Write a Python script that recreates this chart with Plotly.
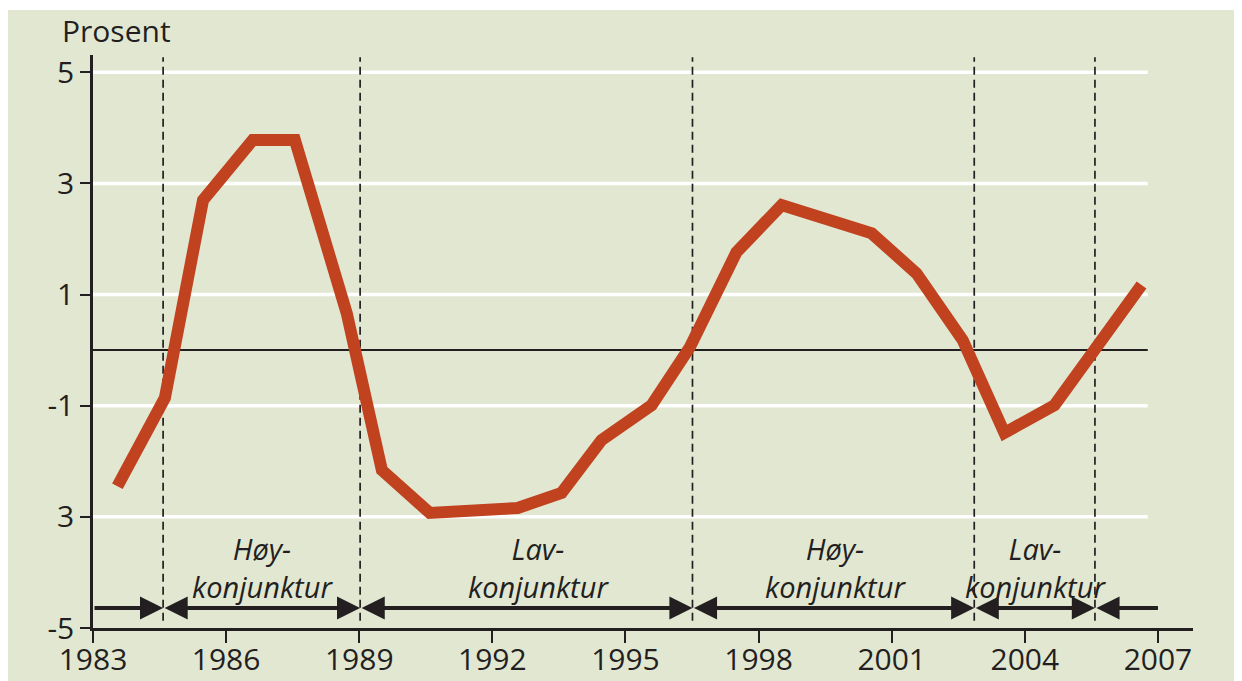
import plotly.graph_objects as go

# ---- data ----
years = [1983.55, 1984.62, 1985.48, 1986.6, 1987.55, 1988.72, 1989.51, 1990.59,
         1992.57, 1993.56, 1994.46, 1995.59, 1996.45, 1997.5, 1998.52, 1999.82,
         2000.55, 2001.56, 2002.6, 2003.54, 2004.67, 2006.63]
gap = [-2.45, -0.86, 2.70, 3.78, 3.78, 0.66, -2.16, -2.93,
       -2.84, -2.57, -1.62, -0.99, 0.05, 1.76, 2.61, 2.30,
       2.10, 1.38, 0.18, -1.49, -0.99, 1.17]

x_ticks = [1983, 1986, 1989, 1992, 1995, 1998, 2001, 2004, 2007]
x_ticktext = ["1983", "1986", "1989", "1992", "1995", "1998", "2001", "2004", "2007"]
y_ticks = [5, 3, 1, -1, -3, -5]
y_ticktext = ["5", "3", "1", "-1", "3", "-5"]
grid_vals = [5, 3, 1, -1, -3]

phase_bounds = [1983, 1984.58, 1989.02, 1996.51, 2002.86, 2005.58, 2007]
phase_labels = ["Høy-<br>konjunktur", "Lav-<br>konjunktur",
                "Høy-<br>konjunktur", "Lav-<br>konjunktur"]
phase_label_x = [1986.81, 1993.05, 1999.74, 2004.25]

# ---- style ----
BG = "#e2e7d2"
INK = "#231f20"
RED = "#c0421f"
FONT = "Open Sans"
OFF = 8                      # page body margin
W, H = 1242 - OFF, 681 - OFF
L, R, T, B = 93 - OFF, 49, 55 - OFF, 53
x_range = [1983, 2007.79]
y_range = [-5, 5.31]
grid_end = 2006.77
arrow_y = -4.64
dash_top, dash_bot = 5.27, -4.87
label_y = -3.92

fig = go.Figure()

shapes = []
for g in grid_vals:
    shapes.append(dict(type="line", xref="x", yref="y", x0=x_range[0], x1=grid_end,
                       y0=g, y1=g, line=dict(color="white", width=3.5), layer="below"))
shapes.append(dict(type="line", xref="x", yref="y", x0=x_range[0], x1=grid_end,
                   y0=0, y1=0, line=dict(color=INK, width=2), layer="below"))
for b in phase_bounds[1:-1]:
    shapes.append(dict(type="line", xref="x", yref="y", x0=b, x1=b, y0=dash_bot, y1=dash_top,
                       line=dict(color=INK, width=1.7, dash="8px,5px"), layer="below"))
pw, ph = W - L - R, H - T - B
# thin white strip at top (reference has 10px white border at top)
shapes.append(dict(type="rect", xref="paper", yref="paper",
                   x0=-L / pw, x1=(W - L) / pw, y0=(ph + T - 2) / ph, y1=(ph + T) / ph,
                   fillcolor="white", line=dict(width=0), layer="above"))

fig.add_trace(go.Scatter(x=years, y=gap, mode="lines",
                         line=dict(color=RED, width=12), hoverinfo="skip",
                         showlegend=False))

annotations = []
n = len(phase_bounds) - 1
for i in range(n):
    x0, x1 = phase_bounds[i], phase_bounds[i + 1]
    if i == 0:
        side = "end"
    elif i == n - 1:
        side = "start"
    else:
        side = "end+start"
    annotations.append(dict(x=x1, y=arrow_y, ax=x0, ay=arrow_y, xref="x", yref="y",
                            axref="x", ayref="y", text="", showarrow=True,
                            arrowhead=2, startarrowhead=2, arrowside=side,
                            arrowsize=1.1, startarrowsize=1.1, arrowwidth=4.2,
                            arrowcolor=INK, standoff=0, startstandoff=0))
for xt, t in zip(phase_label_x, phase_labels):
    annotations.append(dict(x=xt, y=label_y, xref="x", yref="y", text="<i>%s</i>" % t,
                            showarrow=False, align="center",
                            font=dict(family=FONT, size=29, color=INK)))
annotations.append(dict(x=(60 - OFF - L) / pw, y=(ph + T - (31 - OFF)) / ph,
                        xref="paper", yref="paper",
                        xanchor="left", yanchor="middle", text="Prosent", showarrow=False,
                        font=dict(family=FONT, size=30, color=INK)))

fig.update_layout(
    width=W, height=H, autosize=False,
    margin=dict(l=L, r=R, t=T, b=B, pad=0),
    paper_bgcolor=BG, plot_bgcolor=BG,
    shapes=shapes, annotations=annotations,
    showlegend=False,
    font=dict(family=FONT, size=31, color=INK),
)
fig.update_xaxes(range=x_range, tickvals=x_ticks, ticktext=x_ticktext, automargin=False,
                 showgrid=False, zeroline=False, showline=True, linecolor=INK, linewidth=2.5,
                 ticks="outside", ticklen=12, tickwidth=2, tickcolor=INK,
                 ticklabelstandoff=-9,
                 tickfont=dict(family=FONT, size=30, color=INK))
fig.update_yaxes(range=y_range, tickvals=y_ticks, ticktext=y_ticktext, automargin=False,
                 showgrid=False, zeroline=False, showline=True, linecolor=INK, linewidth=2.5,
                 ticks="outside", ticklen=10, tickwidth=2, tickcolor=INK,
                 tickfont=dict(family=FONT, size=30, color=INK))

fig.write_html("out.html")
